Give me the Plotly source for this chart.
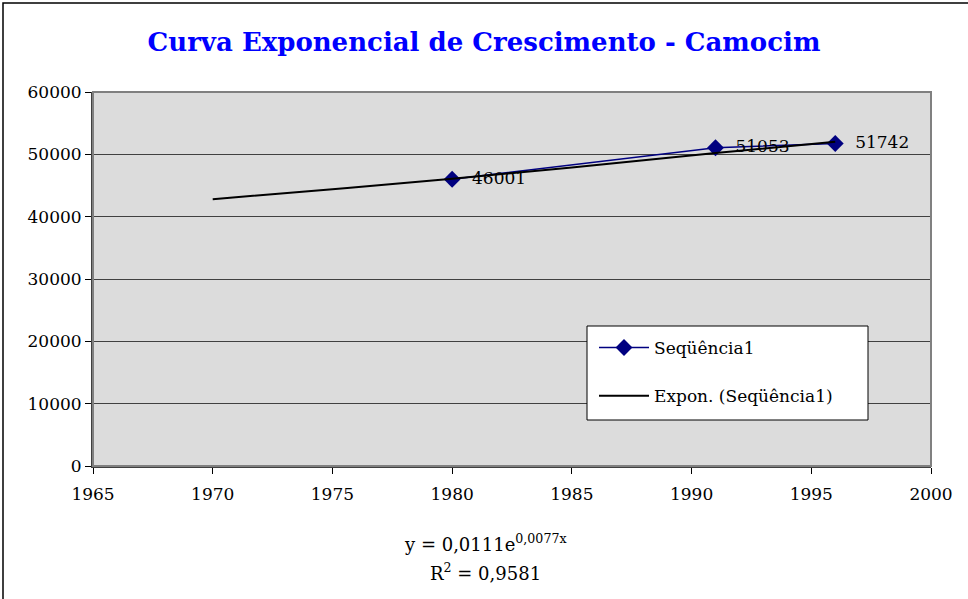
import plotly.graph_objects as go

# dados da série
anos = [1980, 1991, 1996]
populacao = [46001, 51053, 51742]
rotulos = ["46001", "51053", "51742"]

# linha de tendência exponencial
anos_tend = [1970, 1975, 1980, 1985, 1991, 1996]
pop_tend = [42800, 44400, 46100, 47900, 50200, 52000]

titulo = "Curva Exponencial de Crescimento - Camocim"
fonte = "DejaVu Serif, Liberation Serif, serif"

W, H = 968, 599
L, R, T, B = 93, 37, 92, 133
pw, ph = W - L - R, H - T - B


def px_x(p):
    return (p - L) / pw


def px_y(p):
    return (H - B - p) / ph


fig = go.Figure()

fig.add_trace(go.Scatter(
    x=anos, y=populacao, mode="lines+markers+text",
    name="Seqüência1", legendgroup="a",
    line=dict(color="#000080", width=1.5),
    marker=dict(symbol="diamond", size=13, color="#000080"),
    text=["\u00a0\u00a0" + t for t in rotulos], textposition="middle right",
    textfont=dict(family=fonte, size=17, color="black"),
))

fig.add_trace(go.Scatter(
    x=anos_tend, y=pop_tend, mode="lines",
    name="Expon. (Seqüência1)", legendgroup="b",
    line=dict(color="black", width=2, shape="spline"),
))

fig.update_layout(
    width=W, height=H,
    margin=dict(l=L, r=R, t=T, b=B),
    paper_bgcolor="white",
    plot_bgcolor="#dcdcdc",
    font=dict(family=fonte, size=17, color="black"),
    title=dict(text="<b>" + titulo + "</b>", x=0.5, xanchor="center",
               y=1 - 42 / H, yanchor="middle",
               font=dict(family=fonte, size=26, color="#0000ff")),
    legend=dict(x=px_x(594), y=px_y(330), xanchor="left", yanchor="top",
                bgcolor="rgba(0,0,0,0)", borderwidth=0,
                font=dict(family=fonte, size=17), tracegroupgap=23,
                itemwidth=50),
    showlegend=True,
)

fig.update_xaxes(range=[1965, 2000], dtick=5, tick0=1965,
                 showgrid=False, zeroline=False,
                 showline=True, linecolor="#404040", linewidth=2, mirror=False,
                 ticks="outside", ticklen=6, tickcolor="black",
                 ticklabelstandoff=6,
                 tickfont=dict(family=fonte, size=17))
fig.update_yaxes(range=[0, 60000], dtick=10000, tickformat="d",
                 showgrid=True, gridcolor="#404040", gridwidth=1,
                 zeroline=False,
                 showline=True, linecolor="#404040", linewidth=2,
                 ticks="outside", ticklen=6, tickcolor="black",
                 tickfont=dict(family=fonte, size=17))

# bordas
fig.add_shape(type="rect", xref="paper", yref="paper",
              x0=0, x1=1, y0=0, y1=1,
              line=dict(color="#808080", width=2))
fig.add_shape(type="rect", xref="paper", yref="paper",
              x0=px_x(3), x1=px_x(W + 10), y0=px_y(H + 10), y1=px_y(3),
              line=dict(color="black", width=1.5))
# caixa da legenda
fig.add_shape(type="rect", xref="paper", yref="paper", layer="above",
              x0=px_x(587), x1=px_x(868), y0=px_y(420), y1=px_y(326),
              fillcolor="white", line=dict(color="black", width=1))

fig.add_annotation(xref="paper", yref="paper", x=px_x(485), y=px_y(543),
                   text="y = 0,0111e<sup>0,0077x</sup>", showarrow=False,
                   yanchor="middle",
                   font=dict(family=fonte, size=18))
fig.add_annotation(xref="paper", yref="paper", x=px_x(485), y=px_y(572),
                   text="R<sup>2</sup> = 0,9581", showarrow=False,
                   yanchor="middle",
                   font=dict(family=fonte, size=18))

fig.write_html("out.html", config={"displayModeBar": False},
               post_script="document.body.style.margin='0';")
